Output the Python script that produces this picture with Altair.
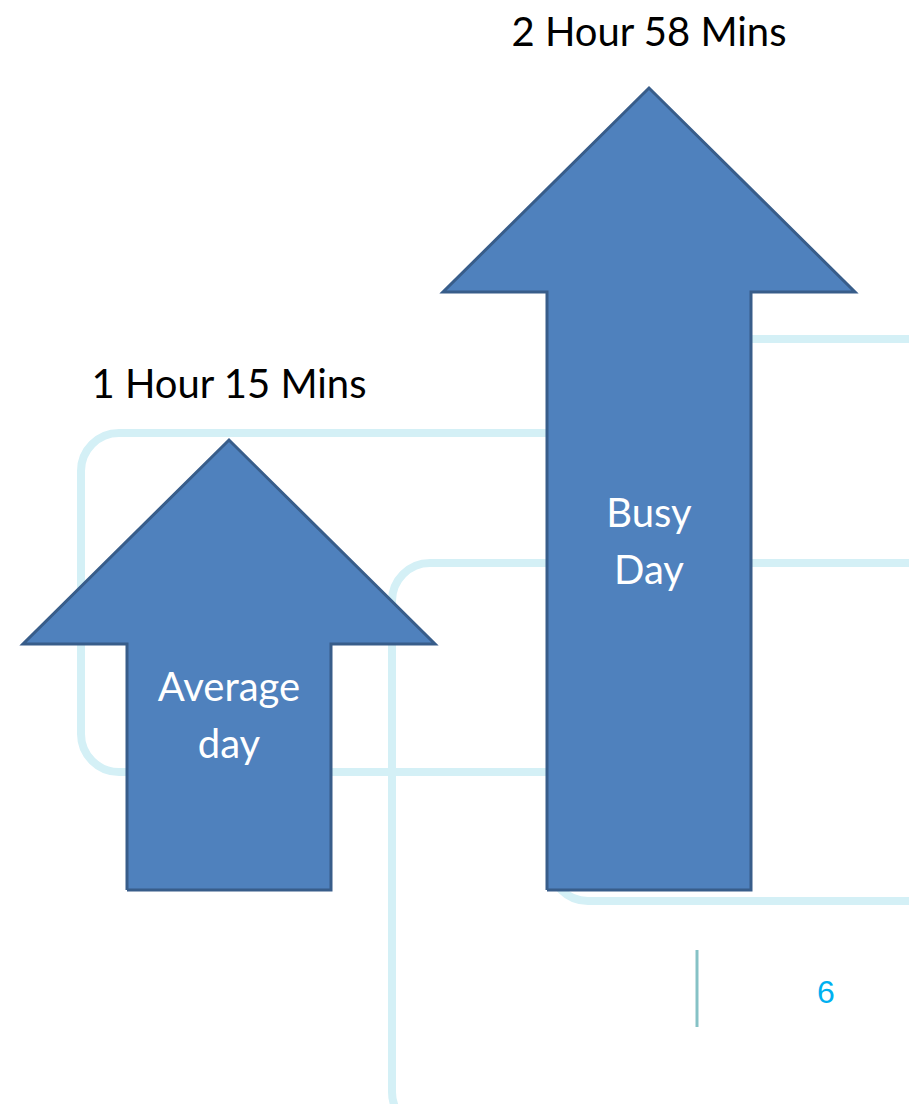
import altair as alt
import pandas as pd

# ---- data ----
categories = ["Average day", "Busy Day"]
inner_labels = ["Average\nday", "Busy\nDay"]
durations = ["1 Hour 15 Mins", "2 Hour 58 Mins"]
minutes = [75, 178]
arrow_lengths = [450, 802]        # arrow tip height above the common base (picture units)
slot_centers = [229, 649]         # horizontal slot of each arrow (picture units)
page_number = ["6"]

# ---- layout / style constants ----
HEAD_H = 204
HEAD_HALF = 206
SHAFT_HALF = 102
INNER_LABEL_AT = [201, 375]       # centre of the first line of the inner label
FILL = "#4f81bd"
EDGE = "#385d8a"
DECOR = "#d4f0f6"
FONT = "Lato"

W, H = 901, 1096
xs = alt.Scale(domain=[8, 8 + W], nice=False, zero=False)
ys = alt.Scale(domain=[890 - 8 - H, 882], nice=False, zero=False)

# arrow polygons built from the values
rows = []
for cat, c, t in zip(categories, slot_centers, arrow_lengths):
    b = t - HEAD_H
    pts = [(c - SHAFT_HALF, 0), (c - SHAFT_HALF, b), (c - HEAD_HALF, b), (c, t),
           (c + HEAD_HALF, b), (c + SHAFT_HALF, b), (c + SHAFT_HALF, 0), (c - SHAFT_HALF, 0)]
    for k, (px, py) in enumerate(pts):
        rows.append({"cat": cat, "k": k, "px": px, "py": py})
poly = pd.DataFrame(rows)

lab = pd.DataFrame({
    "cat": categories, "minutes": minutes, "duration": durations,
    "inner": inner_labels, "c": slot_centers, "tip": arrow_lengths,
    "inner_y": INNER_LABEL_AT,
})

decor = pd.DataFrame({
    "x": [81, 392, 550], "x2": [650, 980, 980],
    "y": [457, 327, 551], "y2": [118, -240, -11],
})

X = lambda f: alt.X(f, scale=xs, axis=None)
Y = lambda f: alt.Y(f, scale=ys, axis=None)

bg = alt.Chart(decor).mark_rect(
    fillOpacity=0, stroke=DECOR, strokeWidth=8, cornerRadius=38, clip=True
).encode(x=X("x:Q"), x2="x2:Q", y=Y("y:Q"), y2="y2:Q")

tick = alt.Chart(pd.DataFrame({"x": [697], "y": [-60], "y2": [-137]})).mark_rule(
    color="#86c2c6", strokeWidth=3
).encode(x=X("x:Q"), y=Y("y:Q"), y2="y2:Q")

arrows = alt.Chart(poly).mark_line(
    fill=FILL, stroke=EDGE, strokeWidth=3, strokeJoin="miter"
).encode(x=X("px:Q"), y=Y("py:Q"), order="k:Q", detail="cat:N")

top_text = alt.Chart(lab).mark_text(
    font=FONT, fontSize=40, color="#000000", baseline="middle", dy=-54
).encode(x=X("c:Q"), y=Y("tip:Q"), text="duration:N")

inner_text = alt.Chart(lab).mark_text(
    font=FONT, fontSize=40, color="#ffffff", baseline="middle", lineBreak="\n", lineHeight=57
).encode(x=X("c:Q"), y=Y("inner_y:Q"), text="inner:N")

pn = alt.Chart(pd.DataFrame({"t": page_number, "x": [826], "y": [-103]})).mark_text(
    font="Liberation Sans", fontSize=32, color="#00b0f0", baseline="middle"
).encode(x=X("x:Q"), y=Y("y:Q"), text="t:N")

chart = alt.layer(bg, tick, arrows, top_text, inner_text, pn).properties(
    width=W, height=H, autosize=alt.AutoSizeParams(type="none"), padding=0,
    background="#ffffff"
).configure_view(strokeWidth=0)

chart.save("out.html", embed_options={"renderer": "svg", "actions": False})
